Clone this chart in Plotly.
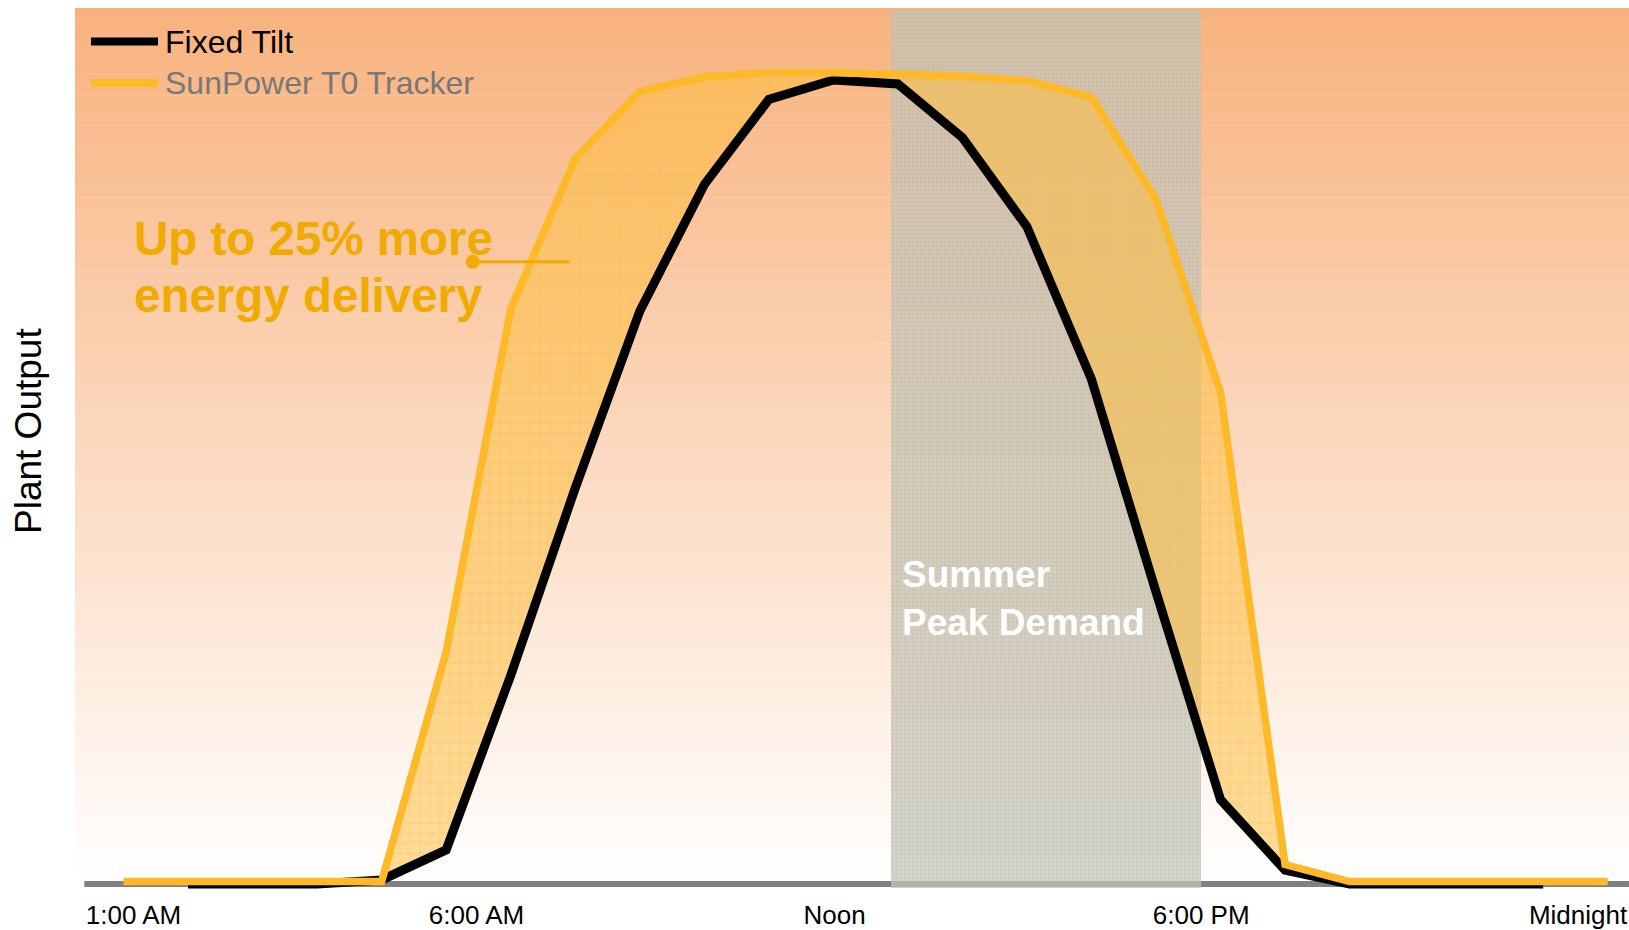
import plotly.graph_objects as go

# ---------------- data ----------------
tracker_hours = [1, 2, 3, 4, 5, 6, 7, 8, 9, 10, 11, 12, 13, 14, 15, 16, 17, 18, 19, 20, 21, 22, 23, 24]
tracker_output = [0.3, 0.3, 0.3, 0.3, 0.3, 28.6, 70.9, 89.4, 97.7, 99.5, 100, 100, 99.8, 99.6, 99.0, 97.0, 84.4, 60.6, 2.4, 0.3, 0.3, 0.3, 0.3, 0.3]

fixed_hours = [2, 3, 4, 5, 6, 7, 8, 9, 10, 11, 12, 13, 14, 15, 16, 17, 18, 19, 20, 21, 22, 23]
fixed_output = [0, 0, 0, 0.5, 4.2, 25.7, 48.8, 70.6, 86.2, 96.7, 99.1, 98.6, 92.0, 81.0, 62.2, 36.0, 10.4, 1.7, 0, 0, 0, 0]

series_names = ["Fixed Tilt", "SunPower T0 Tracker"]
tick_pos = [1.155, 6.47, 12.02, 17.70, 23.54]
tick_labels = ["1:00 AM", "6:00 AM", "Noon", "6:00 PM", "Midnight"]

peak_start = 12.90
peak_end = 17.69
peak_label = "Summer<br>Peak Demand"
callout_lines = ["Up to 25% more", "energy delivery"]
y_title = "Plant Output"

# ---------------- style / layout constants ----------------
W, H = 1629, 930
ML, MR, MT, MB = 75, 0, 8, 38
X_RANGE = [0.248, 24.33]
Y_RANGE = [-0.986, 107.97]
FONT = "Arial, Liberation Sans, sans-serif"
BLACK = "rgb(0,0,0)"
YELLOW = "rgb(253,185,39)"
GOLD = "rgb(240,171,0)"
TOP_COLOR = (248, 178, 125)

pw = W - ML - MR
ph = H - MT - MB


def px_x(px):
    return (px - ML) / pw


def px_y(py):
    return (H - MB - py) / ph


fig = go.Figure()

# peak demand band (patterned)
fig.add_trace(go.Bar(
    x=[(peak_start + peak_end) / 2], y=[108.2], base=[-0.5],
    width=[peak_end - peak_start],
    marker=dict(color="rgba(200,198,185,0.72)", line=dict(width=0),
                pattern=dict(shape="+", size=4, solidity=0.25, fgcolor="rgb(172,172,162)",
                             fgopacity=0.55, fillmode="overlay")),
    hoverinfo="skip", showlegend=False,
))

# fixed tilt line
fig.add_trace(go.Scatter(
    x=fixed_hours, y=fixed_output, mode="lines", name=series_names[0],
    line=dict(color=BLACK, width=9), hoverinfo="skip", showlegend=False,
))

# tracker line with fill to fixed tilt
fig.add_trace(go.Scatter(
    x=tracker_hours, y=tracker_output, mode="lines", name=series_names[1],
    line=dict(color=YELLOW, width=7.5), fill="tonexty",
    fillcolor="rgba(253,190,70,0.55)",
    fillpattern=dict(shape="+", size=10, solidity=0.1, fgcolor="rgb(250,183,40)",
                     fgopacity=0.6, fillmode="overlay"),
    hoverinfo="skip", showlegend=False,
))

shapes = []
# gradient background
n = 120
for i in range(n):
    t0 = i / n
    t1 = (i + 1) / n
    tm = (t0 + t1) / 2
    r = round(255 + (TOP_COLOR[0] - 255) * tm)
    g = round(255 + (TOP_COLOR[1] - 255) * tm)
    b = round(255 + (TOP_COLOR[2] - 255) * tm)
    shapes.append(dict(type="rect", xref="x domain", yref="y",
                       x0=0, x1=1, y0=Y_RANGE[1] * t0, y1=Y_RANGE[1] * t1 + 0.05,
                       fillcolor=f"rgb({r},{g},{b})", line=dict(width=0), layer="below"))
# baseline
shapes.append(dict(type="line", xref="x domain", yref="y", x0=0.006, x1=1, y0=0, y1=0,
                   line=dict(color="rgb(128,128,128)", width=6), layer="below"))

# callout line + dot
shapes.append(dict(type="line", xref="x", yref="y", x0=6.41, x1=7.91, y0=76.7, y1=76.7,
                   line=dict(color=GOLD, width=3), layer="above"))
shapes.append(dict(type="circle", xref="x", yref="y", xsizemode="pixel", ysizemode="pixel",
                   xanchor=6.41, yanchor=76.7, x0=-7, x1=7, y0=-7, y1=7,
                   fillcolor=GOLD, line=dict(width=0), layer="above"))

# manual legend
legend_colors = [BLACK, YELLOW]
legend_text_colors = [BLACK, "rgb(120,120,120)"]
legend_y = [41.6, 83.0]
annotations = []
for name, c, tc, ly in zip(series_names, legend_colors, legend_text_colors, legend_y):
    shapes.append(dict(type="line", xref="paper", yref="paper",
                       x0=px_x(91), x1=px_x(158), y0=px_y(ly), y1=px_y(ly),
                       line=dict(color=c, width=8), layer="above"))
    annotations.append(dict(xref="paper", yref="paper", x=px_x(163), y=px_y(ly),
                            xanchor="left", yanchor="middle", showarrow=False,
                            text=name, font=dict(family=FONT, size=32, color=tc)))

# callout text
for txt, yv in zip(callout_lines, [79.5, 72.5]):
    annotations.append(dict(xref="x", yref="y", x=1.13, y=yv, xanchor="left", yanchor="middle",
                            showarrow=False, text=f"<b>{txt}</b>",
                            font=dict(family=FONT, size=47.5, color=GOLD)))

# peak demand label
annotations.append(dict(xref="x", yref="y", x=13.03, y=35.25, xanchor="left", yanchor="middle",
                        showarrow=False, text=f"<b>{peak_label}</b>", align="left",
                        font=dict(family=FONT, size=37, color="white")))

# y-axis title
annotations.append(dict(xref="paper", yref="paper", x=px_x(29), y=px_y(431),
                        xanchor="center", yanchor="middle", showarrow=False, textangle=-90,
                        text=y_title, font=dict(family=FONT, size=37, color=BLACK)))

fig.update_layout(
    width=W, height=H,
    margin=dict(l=ML, r=MR, t=MT, b=MB, pad=0),
    paper_bgcolor="white", plot_bgcolor="white",
    template="none",
    shapes=shapes, annotations=annotations,
    showlegend=False,
    bargap=0,
    xaxis=dict(range=X_RANGE, showgrid=False, zeroline=False, showline=False,
               tickmode="array", tickvals=tick_pos, ticktext=tick_labels, ticks="",
               ticklabelstandoff=5,
               tickfont=dict(family=FONT, size=26, color=BLACK), automargin=False,
               fixedrange=True),
    yaxis=dict(range=Y_RANGE, showgrid=False, zeroline=False, showline=False,
               showticklabels=False, ticks="", automargin=False, fixedrange=True),
    font=dict(family=FONT),
)

fig.write_html(
    "out.html",
    config={"displayModeBar": False},
    post_script="document.body.style.margin='0';document.body.style.overflow='hidden';",
)
